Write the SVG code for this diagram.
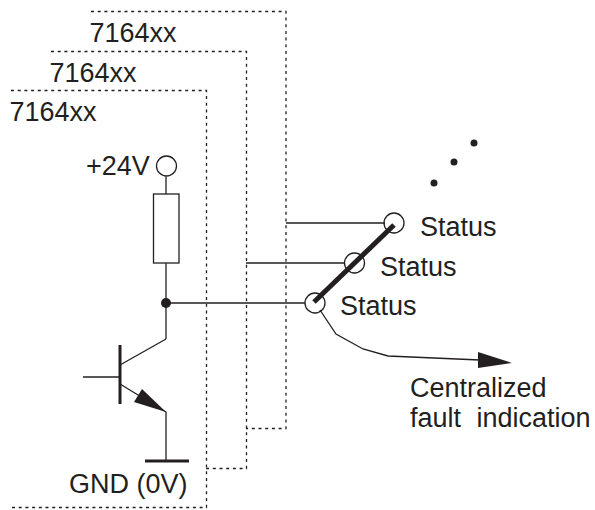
<svg xmlns="http://www.w3.org/2000/svg" width="595" height="510" viewBox="0 0 595 510">
<style>
text{font-family:"Liberation Sans",Arial,sans-serif;font-size:27px;fill:#231f20}
.d{fill:none;stroke:#231f20;stroke-width:1.3;stroke-dasharray:3 3.7}
.w{fill:none;stroke:#231f20;stroke-width:1.3}
.o{fill:#fff;stroke:#231f20;stroke-width:1.3}
.h{fill:none;stroke:#231f20;stroke-width:5}
.f{fill:#231f20}
</style>
<rect width="595" height="510" fill="#fff"/>
<g id="module3"><path class="d" d="M91 11.500H286V428.500H246"/><text x="89.500" y="41.500">7164xx</text></g>
<g id="module2"><path class="d" d="M51 51.500H246.500V468.500H206"/><text x="49.500" y="81.500">7164xx</text></g>
<g id="module1"><path class="d" d="M11 90.500H206.500V507.500H12"/><text x="9.500" y="120.500">7164xx</text></g>
<g id="supply"><circle class="o" cx="166.500" cy="166" r="10"/><text x="86" y="174.500">+24V</text></g>
<g id="status1"><circle class="o" cx="394" cy="223" r="10"/><text x="420" y="235.500">Status</text></g>
<g id="status2"><circle class="o" cx="354.500" cy="263" r="10"/><text x="380" y="275.500">Status</text></g>
<g id="status3"><circle class="o" cx="315" cy="303" r="10"/><text x="340" y="314.500">Status</text></g>
<g id="connectors">
<path class="w" d="M166 176.500V194M166 263V339M166 303H305M246 263H345M286 223H385"/>
<path class="w" d="M166 339L120 365M120 384L166 412V461M83 377H120"/>
<path class="w" d="M320 310L336 334L363 349L388 356L480 360"/>
<polygon class="f" points="478,352 512,363 478,368"/>
<path class="h" d="M314 302L394 225"/>
</g>
<g id="resistor"><rect class="o" x="153.500" y="194" width="25.500" height="69"/></g>
<g id="junction"><circle class="f" cx="166" cy="303" r="5"/></g>
<g id="transistor"><path fill="none" stroke="#231f20" stroke-width="3" d="M120 345V404"/><polygon class="f" points="142,389 134,402 166,412"/></g>
<g id="ground"><path fill="none" stroke="#231f20" stroke-width="3" d="M145 461H189"/><text x="69" y="492.500">GND (0V)</text></g>
<g id="more"><circle class="f" cx="434" cy="183" r="3.500"/><circle class="f" cx="454" cy="162" r="3.500"/><circle class="f" cx="474" cy="143" r="3.500"/></g>
<g id="fault"><text x="410" y="396.500">Centralized</text><text x="410" y="426.500" word-spacing="8">fault indication</text></g>
</svg>
